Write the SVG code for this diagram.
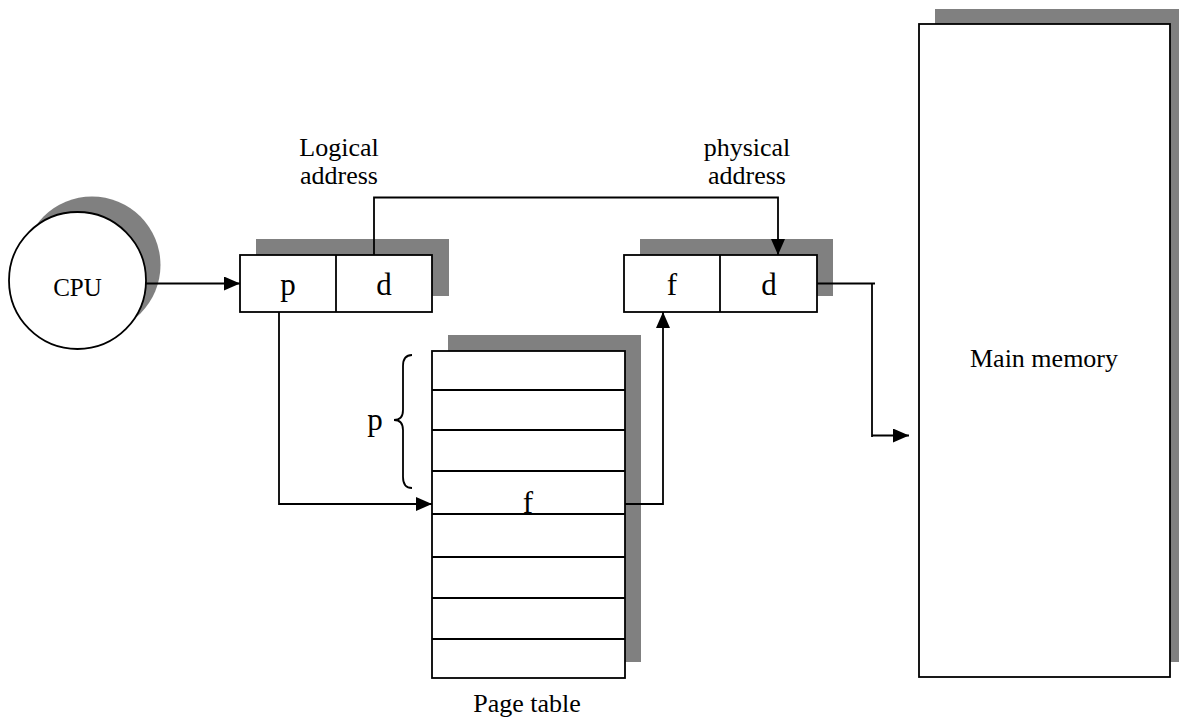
<svg xmlns="http://www.w3.org/2000/svg" width="1179" height="720" viewBox="0 0 1179 720">
<style>
.sh{fill:#808080;stroke:none}
.bx{fill:#fff;stroke:#000;stroke-width:1.8}
.ln{fill:none;stroke:#000;stroke-width:1.8}
.t{font-family:"Liberation Serif","Times New Roman",serif;font-size:26px;fill:#000;text-anchor:middle}
.big{font-size:31px}
</style>
<defs>
<marker id="ah" viewBox="0 0 16 14" refX="16" refY="7" markerWidth="16" markerHeight="14" markerUnits="userSpaceOnUse" orient="auto">
<path d="M0,0 L16,7 L0,14 z" fill="#000"/>
</marker>
</defs>
<rect width="1179" height="720" fill="#fff"/>

<g id="cpu">
<circle class="sh" cx="92" cy="265" r="68.5"/>
<circle class="bx" cx="77.5" cy="280.5" r="68.5"/>
<text class="t" x="77.5" y="296" style="font-size:25px">CPU</text>
</g>

<g id="logical-address">
<rect class="sh" x="256" y="239" width="193" height="57"/>
<rect class="bx" x="240" y="255" width="192" height="57"/>
<line class="ln" x1="336" y1="255" x2="336" y2="312"/>
<text class="t big" x="288" y="295">p</text>
<text class="t big" x="384" y="295">d</text>
<text class="t" x="339" y="156">Logical</text>
<text class="t" x="339" y="184">address</text>
</g>

<g id="physical-address">
<rect class="sh" x="640" y="239" width="193" height="57"/>
<rect class="bx" x="624" y="255" width="193" height="57"/>
<line class="ln" x1="720" y1="255" x2="720" y2="312"/>
<text class="t big" x="672" y="295">f</text>
<text class="t big" x="769" y="295">d</text>
<text class="t" x="747" y="156">physical</text>
<text class="t" x="747" y="184">address</text>
</g>

<g id="page-table">
<rect class="sh" x="448" y="335" width="193" height="327"/>
<rect class="bx" x="432" y="351" width="193" height="327"/>
<path class="ln" d="M432 390H625M432 430H625M432 471H625M432 514H625M432 557H625M432 598H625M432 639H625"/>
<text class="t big" x="528" y="513">f</text>
<path class="ln" d="M412 355 Q403 355 403 366 L403 410 Q403 420 394 420 Q403 420 403 430 L403 477 Q403 488 412 488"/>
<text class="t big" x="375" y="430">p</text>
<text class="t" x="527" y="712">Page table</text>
</g>

<g id="main-memory">
<rect class="sh" x="935" y="9" width="251" height="653"/>
<rect class="bx" x="919" y="24" width="251" height="653"/>
<text class="t" x="1044" y="367">Main memory</text>
</g>

<g id="connectors">
<line class="ln" x1="146" y1="283.5" x2="240" y2="283.5" marker-end="url(#ah)"/>
<polyline class="ln" points="374,255 374,197.5 778,197.5 778,255" marker-end="url(#ah)"/>
<polyline class="ln" points="279,312 279,504 432,504" marker-end="url(#ah)"/>
<polyline class="ln" points="625,504 663,504 663,312" marker-end="url(#ah)"/>
<line class="ln" x1="817" y1="283.5" x2="875" y2="283.5"/>
<line class="ln" x1="872" y1="283.5" x2="872" y2="437"/>
<line class="ln" x1="872" y1="435.5" x2="909" y2="435.5" marker-end="url(#ah)"/>
</g>
</svg>
